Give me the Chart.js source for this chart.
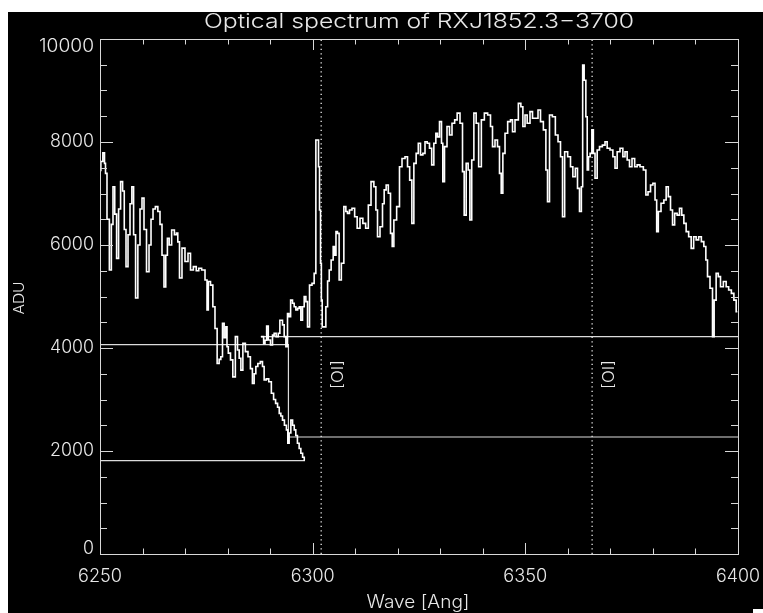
<!DOCTYPE html>
<html>
<head>
<meta charset="utf-8">
<script src="https://cdn.jsdelivr.net/npm/chart.js@4.4.1/dist/chart.umd.min.js"></script>
<style>
  html, body { margin: 0; padding: 0; background: #fff; }
  #wrap { width: 763px; height: 613px; position: relative; }
</style>
</head>
<body>
<div id="wrap"><canvas id="spec" width="763" height="613"></canvas></div>
<script>
// blue half of the spectrum (ends near 6298 A)
const waveA = [6250.00, 6250.40, 6250.94, 6251.18, 6251.41, 6251.88, 6252.52, 6252.82, 6253.29, 6253.64,
  6254.16, 6254.58, 6255.10, 6255.53, 6255.88, 6256.35, 6256.82, 6257.29, 6257.69, 6258.11,
  6258.63, 6259.17, 6259.64, 6260.11, 6260.58, 6261.29, 6261.76, 6262.23, 6262.70, 6263.33,
  6263.87, 6264.34, 6264.81, 6265.28, 6265.63, 6266.06, 6266.46, 6267.23, 6267.75, 6268.17,
  6268.41, 6268.97, 6269.58, 6270.38, 6271.00, 6271.56, 6272.34, 6272.92, 6273.51, 6274.29,
  6275.09, 6275.23, 6275.70, 6276.26, 6276.80, 6277.27, 6277.81, 6278.21, 6278.61, 6278.99,
  6279.39, 6279.79, 6279.93, 6280.40, 6280.96, 6281.50, 6282.14, 6282.52, 6282.92, 6283.32,
  6283.86, 6284.49, 6285.10, 6285.62, 6286.04, 6286.44, 6286.84, 6287.38, 6288.02, 6288.39,
  6288.79, 6289.38, 6289.97, 6290.60, 6291.03, 6291.54, 6291.96, 6292.32, 6292.72, 6293.10,
  6293.62, 6294.04, 6294.27, 6294.67, 6295.07, 6295.49, 6295.85, 6296.21, 6296.62, 6297.02,
  6297.42, 6297.85, 6298.20];
const fluxA = [7450, 7620, 7790, 7585, 7390, 6500, 5515, 6400, 7130, 6600,
  5740, 6700, 7230, 7050, 6300, 5580, 6200, 6800, 7130, 6200,
  4970, 6000, 6700, 6910, 6300, 5480, 6000, 6500, 6700, 6745,
  6650, 6400, 5800, 5184, 5800, 6130, 6000, 6290, 6200, 6230,
  6060, 5360, 5940, 5680, 5840, 5515, 5580, 5500, 5550, 5515,
  5320, 4740, 5290, 5220, 4800, 4380, 3700, 3780, 3830, 4480,
  4200, 4410, 4025, 3900, 3770, 3440, 4220, 3960, 3800, 3570,
  4090, 3930, 3830, 3600, 3310, 3500, 3640, 3700, 3735, 3640,
  3380, 3400, 3345, 3120, 3000, 2925, 2850, 2730, 2680, 2600,
  2500, 2410, 2150, 2350, 2600, 2500, 2410, 2300, 2150, 2050,
  1955, 1880, 1825];

// red half of the spectrum (starts near 6288 A)
const waveB = [6287.85, 6288.39, 6288.56, 6289.03, 6289.33, 6289.80, 6290.37, 6290.75, 6291.14, 6291.68,
  6292.15, 6292.43, 6292.72, 6293.10, 6293.50, 6293.90, 6294.27, 6294.56, 6295.07, 6295.45,
  6295.85, 6296.25, 6296.67, 6297.02, 6297.42, 6297.81, 6298.20, 6298.60, 6298.98, 6299.54,
  6300.15, 6300.55, 6300.95, 6301.26, 6301.49, 6301.73, 6301.96, 6302.13, 6302.36, 6302.90,
  6303.30, 6303.72, 6304.07, 6304.62, 6305.02, 6305.32, 6305.64, 6306.02, 6306.42, 6307.06,
  6307.60, 6308.00, 6308.37, 6308.94, 6309.55, 6310.19, 6310.73, 6311.53, 6312.07, 6312.85,
  6313.32, 6314.12, 6314.66, 6315.06, 6315.43, 6316.23, 6316.61, 6317.01, 6317.55, 6318.02,
  6318.58, 6318.82, 6319.36, 6320.13, 6320.70, 6321.31, 6322.11, 6322.49, 6323.12, 6323.52,
  6324.06, 6324.60, 6325.07, 6325.64, 6326.18, 6326.65, 6327.19, 6327.75, 6328.22, 6328.76,
  6329.16, 6329.54, 6330.10, 6330.48, 6330.71, 6331.28, 6331.89, 6332.45, 6333.07, 6333.70,
  6334.24, 6335.04, 6335.42, 6335.82, 6336.36, 6336.76, 6337.16, 6337.63, 6338.17, 6338.71,
  6339.34, 6339.98, 6340.75, 6341.53, 6342.09, 6342.47, 6343.27, 6343.64, 6344.21, 6344.44,
  6344.99, 6345.46, 6346.23, 6346.80, 6347.17, 6347.97, 6348.75, 6349.15, 6349.69, 6350.16,
  6350.70, 6351.50, 6351.88, 6352.67, 6353.29, 6353.85, 6354.63, 6355.03, 6355.40, 6355.97,
  6356.74, 6357.38, 6357.99, 6358.55, 6358.93, 6359.56, 6360.34, 6360.90, 6361.44, 6362.08,
  6362.45, 6363.02, 6363.33, 6363.63, 6364.03, 6364.43, 6364.67, 6365.04, 6365.44, 6365.84,
  6366.15, 6366.62, 6367.16, 6367.72, 6368.50, 6368.97, 6369.51, 6370.31, 6370.85, 6371.32,
  6371.86, 6372.66, 6373.20, 6373.67, 6374.21, 6374.77, 6375.39, 6376.02, 6376.56, 6377.36,
  6378.14, 6378.54, 6379.15, 6379.72, 6380.26, 6380.73, 6381.03, 6381.50, 6382.30, 6382.84,
  6383.38, 6383.85, 6384.42, 6384.79, 6385.42, 6385.96, 6386.53, 6387.00, 6387.54, 6388.08,
  6388.72, 6389.26, 6389.89, 6390.43, 6391.07, 6391.70, 6392.24, 6392.64, 6393.02, 6393.82,
  6394.19, 6394.59, 6395.13, 6395.60, 6396.17, 6396.94, 6397.49, 6398.12, 6398.76, 6399.30,
  6399.84];
const fluxB = [4220, 4220, 4090, 4150, 4427, 4155, 4058, 4250, 4285, 4220,
  4285, 4540, 4540, 4450, 4220, 4025, 4670, 4610, 4930, 4870,
  4800, 4740, 4770, 4800, 4540, 4800, 5000, 4900, 4410, 5220,
  5255, 5450, 8040, 8040, 7520, 6680, 5645, 4930, 4410, 4410,
  4800, 5300, 5515, 5710, 5970, 5800, 6260, 6225, 5320, 5645,
  6745, 6650, 6615, 6680, 6715, 6550, 6325, 6520, 6420, 6325,
  6775, 7230, 7130, 6680, 6160, 6355, 6800, 7070, 7165, 7005,
  6225, 5970, 6485, 6745, 7520, 7680, 7715, 7520, 7260, 6420,
  7585, 7780, 7975, 7750, 7780, 8005, 7975, 7880, 7555, 7975,
  8170, 8100, 8395, 7975, 7230, 7910, 8300, 8135, 8365, 8430,
  8560, 8365, 7425, 6580, 7585, 7455, 6485, 7650, 8560, 8365,
  7520, 8430, 8560, 8525, 8300, 7910, 8040, 7910, 7390, 7005,
  7780, 8170, 8395, 8430, 8200, 8430, 8750, 8685, 8300, 8525,
  8365, 8590, 8460, 8460, 8620, 8395, 8235, 7455, 6840, 8525,
  8490, 8135, 8005, 7715, 6550, 7810, 7715, 7520, 7325, 7490,
  7100, 6650, 7130, 9495, 9200, 8490, 7455, 7715, 7780, 8235,
  7780, 7295, 7845, 7910, 7940, 8005, 7880, 7845, 7715, 7490,
  7810, 7880, 7715, 7810, 7650, 7520, 7680, 7520, 7555, 7520,
  7455, 6970, 7035, 7165, 7200, 6875, 6260, 6650, 6810, 6875,
  7130, 6940, 6680, 6390, 6615, 6580, 6715, 6580, 6420, 6260,
  6160, 5935, 6160, 6100, 6160, 6065, 5970, 5710, 5385, 5160,
  4220, 4930, 5450, 5385, 5190, 5290, 5190, 5125, 5060, 4930,
  4705];

// continuum levels drawn as straight lines
const stepWaves = [6250, 6294.3, 6294.3, 6400];
const stepFlux = [4064, 4064, 2272, 2272];
const lowWaves = [6250, 6298.2];
const lowFlux = [1812, 1812];
const highWaves = [6287.8, 6400];
const highFlux = [4219, 4219];

// [OI] line markers
const lineWaves = [6302.0, 6365.7];
const lineNames = ['[OI]', '[OI]'];

const xMajor = [6250, 6300, 6350, 6400];
const xMinor = [6260, 6270, 6280, 6290, 6310, 6320, 6330, 6340, 6360, 6370, 6380, 6390];
const yMajor = [0, 2000, 4000, 6000, 8000, 10000];
const yMinor = [500, 1000, 1500, 2500, 3000, 3500, 4500, 5000, 5500, 6500, 7000, 7500, 8500, 9000, 9500];
const xTickLabels = ['6250', '6300', '6350', '6400'];
const yTickLabels = ['0', '2000', '4000', '6000', '8000', '10000'];

const titleText = 'Optical spectrum of RXJ1852.3\u22123700';
const xTitle = 'Wave [Ang]';
const yTitle = 'ADU';

const pts = (xs, ys) => xs.map((x, i) => ({ x: x, y: ys[i] }));

const FONT = 'Inter, "DejaVu Sans", sans-serif';
const INK = '#e8e8e8';

// draw text squeezed/stretched to a given width (IDL vector font is wide and thin)
function wideText(ctx, txt, x, y, font, width) {
  ctx.save();
  ctx.font = font;
  const w = ctx.measureText(txt).width;
  ctx.translate(x, y);
  ctx.scale(width / w, 1);
  ctx.fillText(txt, 0, 0);
  ctx.restore();
}

const framePlugin = {
  id: 'idlFrame',
  beforeDraw(chart) {
    const ctx = chart.ctx;
    ctx.save();
    ctx.fillStyle = '#fff';
    ctx.fillRect(0, 0, chart.width, chart.height);
    ctx.fillStyle = '#000';
    ctx.fillRect(8, 12, chart.width - 8, chart.height - 12);
    ctx.fillStyle = '#fff';
    ctx.fillRect(753, 609, 10, 4);
    ctx.restore();
  },
  afterDraw(chart) {
    const ctx = chart.ctx;
    const a = chart.chartArea;
    const xs = chart.scales.x, ys = chart.scales.y;
    ctx.save();
    ctx.strokeStyle = '#d8d8d8';
    ctx.lineWidth = 1;
    ctx.strokeRect(a.left + 0.5, a.top + 0.5, a.right - a.left, a.bottom - a.top);

    ctx.beginPath();
    const xt = (v, len) => {
      const p = Math.round(xs.getPixelForValue(v)) + 0.5;
      ctx.moveTo(p, a.bottom); ctx.lineTo(p, a.bottom - len);
      ctx.moveTo(p, a.top); ctx.lineTo(p, a.top + len);
    };
    const yt = (v, len) => {
      const p = Math.round(ys.getPixelForValue(v)) + 0.5;
      ctx.moveTo(a.left, p); ctx.lineTo(a.left + len, p);
      ctx.moveTo(a.right, p); ctx.lineTo(a.right - len, p);
    };
    xMajor.forEach(v => xt(v, 11));
    xMinor.forEach(v => xt(v, 5.5));
    yMajor.forEach(v => yt(v, 13));
    yMinor.forEach(v => yt(v, 7));
    ctx.stroke();

    ctx.fillStyle = INK;
    const tickFont = '300 18px ' + FONT;
    ctx.textBaseline = 'middle';
    ctx.textAlign = 'center';
    xMajor.forEach((v, i) =>
      wideText(ctx, xTickLabels[i], xs.getPixelForValue(v), 577, tickFont, 11 * xTickLabels[i].length));
    ctx.textAlign = 'right';
    yMajor.forEach((v, i) => {
      let p = ys.getPixelForValue(v);
      p = Math.max(a.top + 7.5, Math.min(a.bottom - 5.5, p));
      wideText(ctx, yTickLabels[i], a.left - 6, p, tickFont, 11 * yTickLabels[i].length);
    });

    ctx.textAlign = 'center';
    wideText(ctx, titleText, 419, 21.5, '300 20px ' + FONT, 430);
    wideText(ctx, xTitle, 418, 603, '300 18px ' + FONT, 103);

    ctx.save();
    ctx.translate(19, 298);
    ctx.rotate(-Math.PI / 2);
    wideText(ctx, yTitle, 0, 0, '300 15px ' + FONT, 33);
    ctx.restore();

    lineWaves.forEach((w, i) => {
      ctx.save();
      ctx.translate(xs.getPixelForValue(w) + 17, 374.5);
      ctx.rotate(-Math.PI / 2);
      wideText(ctx, lineNames[i], 0, 0, '300 16px ' + FONT, 29);
      ctx.restore();
    });
    ctx.restore();
  }
};

const specLine = { borderColor: '#ffffff', borderWidth: 1.6, pointRadius: 0, stepped: 'middle', fill: false };
const levelLine = { borderColor: '#dcdcdc', borderWidth: 1.2, pointRadius: 0, fill: false };

new Chart(document.getElementById('spec'), {
  type: 'line',
  data: {
    datasets: [
      Object.assign({ label: 'blue', data: pts(waveA, fluxA) }, specLine),
      Object.assign({ label: 'red', data: pts(waveB, fluxB) }, specLine),
      Object.assign({ label: 'step', data: pts(stepWaves, stepFlux) }, levelLine),
      Object.assign({ label: 'low', data: pts(lowWaves, lowFlux) }, levelLine),
      Object.assign({ label: 'high', data: pts(highWaves, highFlux) }, levelLine),
      ...lineWaves.map((w, i) => ({
        label: lineNames[i] + i,
        data: [{ x: w, y: 0 }, { x: w, y: 10000 }],
        borderColor: '#ffffff', borderWidth: 1.2, borderDash: [1.2, 3.3], pointRadius: 0
      }))
    ]
  },
  options: {
    responsive: false,
    animation: false,
    events: [],
    layout: { padding: { left: 100, top: 39, right: 25, bottom: 59 } },
    plugins: { legend: { display: false }, tooltip: { enabled: false }, title: { display: false } },
    scales: {
      x: { type: 'linear', min: 6250, max: 6400, display: false },
      y: { type: 'linear', min: 0, max: 10000, display: false }
    }
  },
  plugins: [framePlugin]
});
</script>
</body>
</html>
